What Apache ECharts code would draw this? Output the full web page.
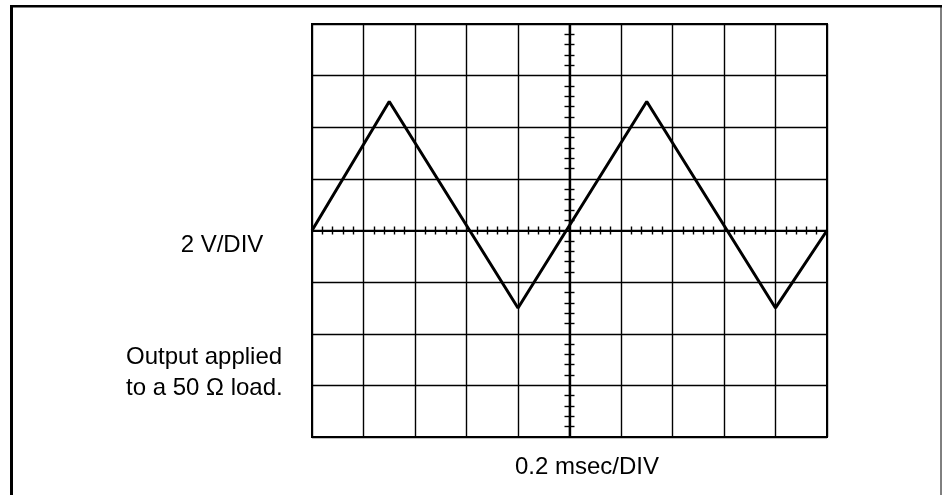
<!DOCTYPE html>
<html>
<head>
<meta charset="utf-8">
<script src="https://cdn.jsdelivr.net/npm/echarts@6/dist/echarts.min.js"></script>
<style>
  html, body { margin: 0; padding: 0; background: #fff; }
  #chart { width: 942px; height: 495px; }
</style>
</head>
<body>
<div id="chart"></div>
<script>
// trace corners: time in ms, output in volts
var timeMs = [0, 0.3, 0.8, 1.3, 1.8, 2.0];
var volts = [0, 5, -3, 5, -3, 0];

// scope settings (0.2 msec/DIV, 2 V/DIV)
var timeRange = [0, 2];
var timePerDiv = 0.2;
var voltRange = [-8, 8];
var voltPerDiv = 2;

var voltLabel = '2 V/DIV';
var timeLabel = '0.2 msec/DIV';
var noteLines = ['Output applied', 'to a 50 \u03A9 load.'];

var FONT = '"Liberation Sans", Arial, sans-serif';

var chart = echarts.init(document.getElementById('chart'));

var halfWidth = (942 - 312 - 115) / 2;

function xAxisCfg(pos, withGrid) {
  return {
    type: 'value',
    position: pos,
    min: timeRange[0],
    max: timeRange[1],
    interval: timePerDiv,
    axisLine: { show: true, onZero: true, lineStyle: { color: '#000', width: 2.2 } },
    axisTick: { show: false },
    minorTick: { show: true, splitNumber: 5, length: 4, lineStyle: { color: '#000', width: 1.4 } },
    axisLabel: { show: false },
    splitLine: { show: withGrid, lineStyle: { color: '#000', width: 1.4 } },
    minorSplitLine: { show: false }
  };
}

function yAxisCfg(pos, withGrid) {
  return {
    type: 'value',
    position: pos,
    offset: -halfWidth,
    min: voltRange[0],
    max: voltRange[1],
    interval: voltPerDiv,
    axisLine: { show: true, onZero: false, lineStyle: { color: '#000', width: 2.2 } },
    axisTick: { show: false },
    minorTick: { show: true, splitNumber: 5, length: 5, lineStyle: { color: '#000', width: 1.4 } },
    axisLabel: { show: false },
    splitLine: { show: withGrid, lineStyle: { color: '#000', width: 1.4 } },
    minorSplitLine: { show: false }
  };
}

var data = timeMs.map(function (t, i) { return [t, volts[i]]; });

var textStyle = { fill: '#000', fontSize: 24, fontFamily: FONT };

chart.setOption({
  animation: false,
  backgroundColor: '#fff',
  grid: {
    left: 312, top: 24, right: 115, bottom: 58,
    show: true, borderColor: '#000', borderWidth: 2, backgroundColor: 'transparent'
  },
  xAxis: [xAxisCfg('bottom', true), xAxisCfg('top', false)],
  yAxis: [yAxisCfg('left', true), yAxisCfg('right', false)],
  series: [{
    type: 'line',
    data: data,
    showSymbol: false,
    symbol: 'none',
    lineStyle: { color: '#000', width: 3 },
    z: 5
  }],
  graphic: [
    // outer frame
    { type: 'line', shape: { x1: 11.5, y1: 5, x2: 11.5, y2: 495 }, style: { stroke: '#000', lineWidth: 3 } },
    { type: 'line', shape: { x1: 10, y1: 6.2, x2: 942, y2: 6.2 }, style: { stroke: '#000', lineWidth: 2.5 } },
    { type: 'line', shape: { x1: 941, y1: 5, x2: 941, y2: 495 }, style: { stroke: '#000', lineWidth: 1 } },
    // labels
    { type: 'text', x: 222, y: 245, style: Object.assign({ text: voltLabel, align: 'center', verticalAlign: 'middle' }, textStyle) },
    { type: 'text', x: 126, y: 357, style: Object.assign({ text: noteLines[0], align: 'left', verticalAlign: 'middle' }, textStyle) },
    { type: 'text', x: 126, y: 388, style: Object.assign({ text: noteLines[1], align: 'left', verticalAlign: 'middle' }, textStyle) },
    { type: 'text', x: 587, y: 467, style: Object.assign({ text: timeLabel, align: 'center', verticalAlign: 'middle' }, textStyle) }
  ]
});
</script>
</body>
</html>
